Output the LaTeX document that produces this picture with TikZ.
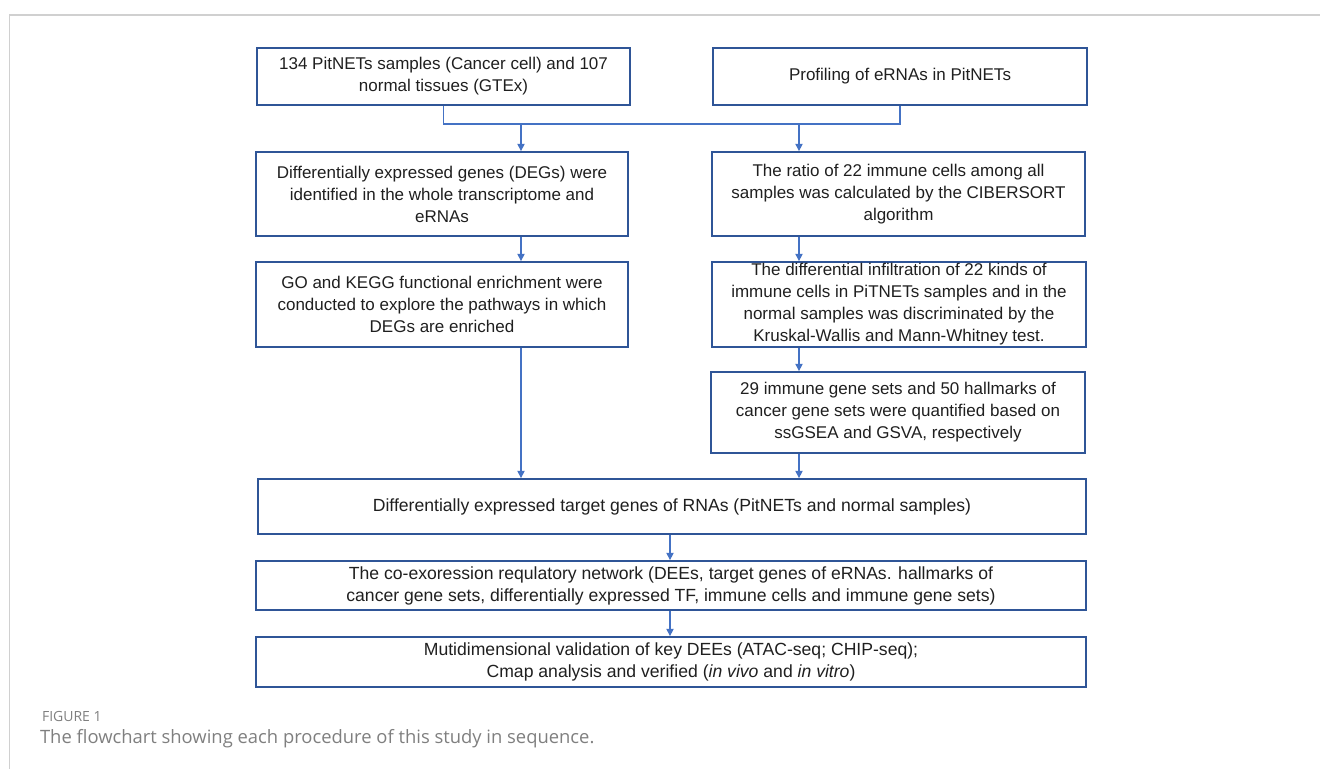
\documentclass[tikz,border=0pt]{standalone}
\usepackage{fontspec}
\setmainfont{Liberation Sans}
\newfontfamily\capfont{Open Sans}
\usetikzlibrary{arrows.meta}

\definecolor{boxblue}{HTML}{2F5597}
\definecolor{lineblue}{HTML}{4472C4}
\definecolor{txtgray}{HTML}{1F1F1F}
\definecolor{capgray}{HTML}{7F7F7F}
\definecolor{framegray}{HTML}{D0D0D0}

\tikzset{
  box/.style={draw=boxblue, line width=0.9pt, align=center, inner sep=0pt,
    text=txtgray, font=\fontsize{8.5}{11}\selectfont},
  widebox/.style={box, font=\fontsize{8.8}{11}\selectfont},
  link/.style={draw=lineblue, line width=0.6pt},
  arr/.style={link, -{Triangle[width=3.6pt,length=3.6pt]}}
}

\begin{document}
\begin{tikzpicture}[x=0.5pt, y=-0.5pt]
    \useasboundingbox (0,0) rectangle (1320,769);
    % outer frame
    \draw[framegray, line width=0.8pt] (9.5,790) -- (9.5,15) -- (1340,15);

    % columns of the arrows
    \coordinate (lx) at (521,0);
    \coordinate (rx) at (799,0);
    \coordinate (mx) at (670,0);
    \coordinate (bus) at (0,124);

    % top row
    \node[box, minimum width=186.5pt, minimum height=28.5pt] (samples) at (443.5,76.5)
        {134 PitNETs samples (Cancer cell) and 107\\normal tissues (GTEx)};
    \node[box, minimum width=187pt, minimum height=28.5pt] (profile) at (900,76.5)
        {Profiling of eRNAs in PitNETs};

    % left column
    \node[box, minimum width=186pt, minimum height=42pt] (degs) at (442,194)
        {Differentially expressed genes (DEGs) were\\identified in the whole transcriptome and\\eRNAs};
    \node[box, minimum width=186pt, minimum height=42.5pt] (enrich) at (442,304.5)
        {GO and KEGG functional enrichment were\\conducted to explore the pathways in which\\DEGs are enriched};

    % right column
    \node[box, minimum width=186.5pt, minimum height=42pt] (ratio) at (898.5,194)
        {The ratio of 22 immune cells among all\\samples was calculated by the CIBERSORT\\algorithm};
    \node[box, minimum width=187pt, minimum height=42.5pt] (infil) at (899,304.5)
        {The differential infiltration of 22 kinds of\\immune cells in PiTNETs samples and in the\\normal samples was discriminated by the\\Kruskal-Wallis and Mann-Whitney test.};
    \node[box, minimum width=187pt, minimum height=40.5pt] (gsets) at (898,412.5)
        {29 immune gene sets and 50 hallmarks of\\cancer gene sets were quantified based on\\ssGSEA and GSVA, respectively};

    % bottom rows
    \node[widebox, minimum width=414pt, minimum height=27.5pt] (targets) at (672,506.5)
        {Differentially expressed target genes of RNAs (PitNETs and normal samples)};
    \node[widebox, minimum width=415pt, minimum height=24.5pt] (network) at (671,585.5)
        {The co-exoression requlatory network (DEEs, target genes of eRNAs. hallmarks of\\cancer gene sets, differentially expressed TF, immune cells and immune gene sets)};
    \node[widebox, minimum width=415pt, minimum height=25pt] (valid) at (671,662)
        {Mutidimensional validation of key DEEs (ATAC-seq; CHIP-seq);\\Cmap analysis and verified (\textit{in vivo} and \textit{in vitro})};

    % connectors
    \draw[link] (samples.south) |- (bus -| profile.south) -- (profile.south);
    \draw[arr] (bus -| lx) -- (lx |- degs.north);
    \draw[arr] (bus -| rx) -- (rx |- ratio.north);
    \draw[arr] (lx |- degs.south) -- (lx |- enrich.north);
    \draw[arr] (rx |- ratio.south) -- (rx |- infil.north);
    \draw[arr] (rx |- infil.south) -- (rx |- gsets.north);
    \draw[arr] (lx |- enrich.south) -- (lx |- targets.north);
    \draw[arr] (rx |- gsets.south) -- (rx |- targets.north);
    \draw[arr] (mx |- targets.south) -- (mx |- network.north);
    \draw[arr] (mx |- network.south) -- (mx |- valid.north);

    % caption
    \node[anchor=west, text=capgray, font=\capfont\fontsize{7}{8}\selectfont] (fig) at (35,716) {FIGURE 1};
    \node[anchor=west, text=capgray, font=\capfont\fontsize{9.2}{11}\selectfont] (caption) at (33,739)
        {The flowchart showing each procedure of this study in sequence.};
\end{tikzpicture}
\end{document}
